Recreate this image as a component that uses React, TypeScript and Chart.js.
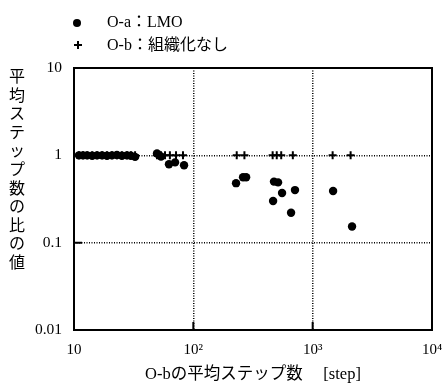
import { useEffect, useRef } from 'react';
import { Chart, registerables } from 'chart.js';

Chart.register(...registerables);

// O-a : LMO  (x = O-b average steps, y = ratio of average steps)
const oaX = [11.0, 11.9, 12.9, 14.2, 15.6, 17.2, 18.9, 20.8, 22.9, 25.2, 27.8, 30.0, 32.5, 49.6, 53.6, 62.5, 70.3, 83.6, 228, 261, 277, 466, 474, 513, 554, 659, 711, 1483, 2138];
const oaY = [1.0, 1.0, 1.0, 0.99, 1.0, 1.0, 0.99, 1.0, 1.01, 0.99, 1.0, 0.99, 0.96, 1.05, 0.97, 0.79, 0.83, 0.77, 0.48, 0.56, 0.56, 0.30, 0.50, 0.49, 0.37, 0.22, 0.40, 0.39, 0.153];

// O-b : 組織化なし
const obX = [11.0, 11.9, 12.9, 14.2, 15.6, 17.2, 18.9, 20.8, 22.9, 25.2, 27.8, 30.0, 32.5, 49.6, 53.6, 57.9, 63.6, 71.6, 81.9, 231, 268, 462, 500, 545, 682, 1470, 2080];
const obY = [1, 1, 1, 1, 1, 1, 1, 1, 1, 1, 1, 1, 1, 1, 1, 1, 1, 1, 1, 1, 1, 1, 1, 1, 1, 1, 1];

const legendLabels = ['O-a：LMO', 'O-b：組織化なし'];
const xTickValues = [10, 100, 1000, 10000];
const xTickLabels = ['10', '10²', '10³', '10⁴'];
const yTickValues = [0.01, 0.1, 1, 10];
const yTickLabels = ['0.01', '0.1', '1', '10'];
const yTitle = '平均ステップ数の比の値';
const xTitle = 'O-bの平均ステップ数　 [step]';

const FONT = '"Liberation Serif", "Noto Sans CJK JP", serif';

const decorPlugin = {
  id: 'decor',
  beforeDatasetsDraw(chart: any) {
    const { ctx, chartArea: a, scales } = chart;
    ctx.save();
    ctx.strokeStyle = '#000';
    ctx.lineWidth = 2;
    ctx.beginPath();
    xTickValues.forEach((v) => {
      const px = scales.x.getPixelForValue(v);
      ctx.moveTo(px, a.bottom);
      ctx.lineTo(px, a.bottom - 8);
    });
    yTickValues.forEach((v) => {
      const py = scales.y.getPixelForValue(v);
      ctx.moveTo(a.left, py);
      ctx.lineTo(a.left + 8, py);
    });
    ctx.stroke();
    ctx.lineWidth = 2;
    ctx.strokeRect(a.left, a.top, a.right - a.left, a.bottom - a.top);
    ctx.restore();
  },
  afterDraw(chart: any) {
    const { ctx } = chart;
    ctx.save();
    ctx.fillStyle = '#000';
    ctx.strokeStyle = '#000';
    ctx.beginPath();
    ctx.arc(77, 23, 4, 0, Math.PI * 2);
    ctx.fill();
    ctx.lineWidth = 2;
    ctx.beginPath();
    ctx.moveTo(74, 45);
    ctx.lineTo(82, 45);
    ctx.moveTo(78, 41);
    ctx.lineTo(78, 49);
    ctx.stroke();
    ctx.font = '16px ' + FONT;
    ctx.textBaseline = 'middle';
    ctx.textAlign = 'left';
    ctx.fillText(legendLabels[0], 107, 23);
    ctx.fillText(legendLabels[1], 107, 46);
    ctx.font = '16px "Noto Sans CJK JP", sans-serif';
    ctx.textAlign = 'center';
    const chars = Array.from(yTitle);
    chars.forEach((c, i) => {
      ctx.fillText(c, 17, 76 + i * 18.6);
    });
    ctx.restore();
  },
};

export default function App() {
  const ref = useRef<HTMLCanvasElement>(null);
  useEffect(() => {
    if (!ref.current) return;
    const chart = new Chart(ref.current, {
      type: 'scatter',
      data: {
        datasets: [
          {
            label: legendLabels[0],
            data: oaX.map((x, i) => ({ x, y: oaY[i] })),
            pointStyle: 'circle',
            pointRadius: 4.2,
            backgroundColor: '#000',
            borderColor: '#000',
            borderWidth: 0,
          },
          {
            label: legendLabels[1],
            data: obX.map((x, i) => ({ x, y: obY[i] })),
            pointStyle: 'cross',
            pointRadius: 4,
            backgroundColor: '#000',
            borderColor: '#000',
            borderWidth: 2,
          },
        ],
      },
      options: {
        responsive: false,
        animation: false,
        layout: { padding: { top: 68, right: 12, left: 0, bottom: 0 } },
        plugins: {
          legend: { display: false },
          tooltip: { enabled: false },
        },
        scales: {
          x: {
            type: 'logarithmic',
            min: 10,
            max: 10000,
            afterBuildTicks: (s: any) => {
              s.ticks = xTickValues.map((v) => ({ value: v }));
            },
            afterFit: (s: any) => {
              s.height = 58;
              s.paddingLeft = 0;
              s.paddingRight = 0;
            },
            ticks: {
              color: '#000',
              font: { family: FONT, size: 15 },
              padding: 11,
              maxRotation: 0,
              autoSkip: false,
              callback: (_v: any, i: number) => xTickLabels[i],
            },
            grid: {
              color: '#000',
              lineWidth: 1.5,
              drawTicks: false,
            },
            border: { display: false, dash: [1, 1.5] },
            title: {
              display: true,
              text: xTitle,
              color: '#000',
              font: { family: FONT, size: 16.5 },
              padding: { top: 0, bottom: 3 },
            },
          },
          y: {
            type: 'logarithmic',
            min: 0.01,
            max: 10,
            afterBuildTicks: (s: any) => {
              s.ticks = yTickValues.map((v) => ({ value: v }));
            },
            afterFit: (s: any) => {
              s.width = 74;
              s.paddingTop = 0;
              s.paddingBottom = 0;
            },
            ticks: {
              color: '#000',
              font: { family: FONT, size: 15.5 },
              padding: 12,
              autoSkip: false,
              callback: (_v: any, i: number) => yTickLabels[i],
            },
            grid: {
              color: '#000',
              lineWidth: 1.5,
              drawTicks: false,
            },
            border: { display: false, dash: [1, 1.5] },
          },
        },
      },
      plugins: [decorPlugin],
    });
    return () => chart.destroy();
  }, []);
  return (
    <div style={{ position: 'fixed', left: 0, top: 0, width: 444, height: 388, background: '#fff' }}>
      <canvas ref={ref} width={444} height={388} />
    </div>
  );
}
